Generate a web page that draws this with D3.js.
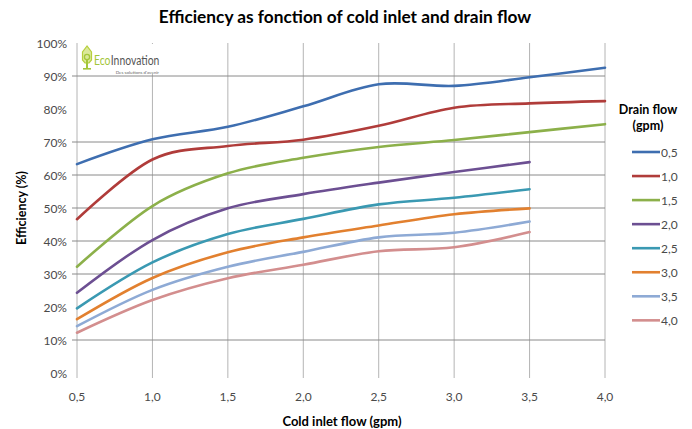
<!DOCTYPE html>
<html>
<head>
<meta charset="utf-8">
<script src="https://cdn.jsdelivr.net/npm/d3@7"></script>
<style>
  html, body { margin: 0; padding: 0; background: #fff; }
  svg text { font-family: Lato, "Open Sans", sans-serif; }
</style>
</head>
<body>
<svg id="chart" width="692" height="429"></svg>
<script>
// ---- data ----
const coldInletFlow = [0.5, 1.0, 1.5, 2.0, 2.5, 3.0, 3.5, 4.0];
const drainFlows = ["0,5", "1,0", "1,5", "2,0", "2,5", "3,0", "3,5", "4,0"];
const eff05 = [63.3, 70.8, 74.6, 80.8, 87.5, 87.0, 89.6, 92.5];
const eff10 = [46.6, 64.7, 68.8, 70.7, 74.9, 80.4, 81.7, 82.4];
const eff15 = [32.2, 50.6, 60.5, 65.2, 68.5, 70.6, 73.0, 75.4];
const eff20 = [24.3, 40.3, 49.9, 54.2, 57.7, 60.9, 63.9];
const eff25 = [19.6, 33.5, 42.1, 46.7, 51.1, 53.1, 55.7];
const eff30 = [16.3, 28.8, 36.6, 41.1, 44.7, 48.1, 49.9];
const eff35 = [14.2, 25.2, 32.2, 36.7, 41.1, 42.5, 45.9];
const eff40 = [12.2, 22.1, 28.7, 32.8, 36.9, 38.1, 42.7];
const seriesValues = [eff05, eff10, eff15, eff20, eff25, eff30, eff35, eff40];
const colors = ["#3e6eb0", "#b03c3a", "#8cb04a", "#6c4f92", "#3a99b2", "#e2802f", "#8eaad5", "#d38e8e"];
const xTicks = [0.5, 1.0, 1.5, 2.0, 2.5, 3.0, 3.5, 4.0];
const yTicks = [0, 10, 20, 30, 40, 50, 60, 70, 80, 90, 100];
const yGridShown = [10, 30, 40, 50, 60, 70, 90];

// ---- drawing ----
const svg = d3.select("#chart");
const x = d3.scaleLinear().domain([0.5, 4.0]).range([77, 605]);
const y = d3.scaleLinear().domain([0, 100]).range([373, 43]);
const fmtX = v => d3.format(".1f")(v).replace(".", ",");

// vertical gridlines
svg.append("g").selectAll("line").data(xTicks).join("line")
  .attr("x1", d => x(d)).attr("x2", d => x(d))
  .attr("y1", y(100)).attr("y2", y(0) + 5)
  .attr("stroke", "#b4b4b4").attr("stroke-width", 1);

// horizontal gridlines
svg.append("g").selectAll("line").data(yGridShown).join("line")
  .attr("x1", x(0.5) - 5).attr("x2", x(4.0))
  .attr("y1", d => y(d)).attr("y2", d => y(d))
  .attr("stroke", "#8a8a8a").attr("stroke-width", 1);

// y tick labels
svg.append("g").selectAll("text").data(yTicks).join("text")
  .attr("x", 67).attr("y", d => y(d) + 4.5)
  .attr("text-anchor", "end").attr("font-size", 12).attr("fill", "#4a4a4a")
  .text(d => d + "%");

// x tick labels
svg.append("g").selectAll("text").data(xTicks).join("text")
  .attr("x", d => x(d)).attr("y", 401)
  .attr("text-anchor", "middle").attr("font-size", 12).attr("fill", "#4a4a4a")
  .text(d => fmtX(d));

// logo
const logo = svg.append("g");
logo.append("rect").attr("x", 78).attr("y", 44).attr("width", 83).attr("height", 30).attr("fill", "#fff");
logo.append("path").attr("d", "M87,46 L82.5,52 L82.5,60 L85,63 L89,63 L91.5,60 L91.5,52 Z")
  .attr("fill", "#dbe89a").attr("stroke", "#b6cf3c").attr("stroke-width", 1.2);
logo.append("circle").attr("cx", 87).attr("cy", 57).attr("r", 2.6).attr("fill", "none").attr("stroke", "#a3c63a").attr("stroke-width", 1.3);
logo.append("rect").attr("x", 86).attr("y", 59).attr("width", 2).attr("height", 10).attr("fill", "#a3c63a");
logo.append("rect").attr("x", 83).attr("y", 68).attr("width", 8).attr("height", 1.6).attr("fill", "#a3c63a");
const brand = logo.append("g").attr("transform", "translate(94,64.5) scale(0.8,1)");
const t1 = brand.append("text").attr("x", 0).attr("y", 0).attr("font-size", 13).attr("fill", "#a3c63a").text("Eco");
const w1 = t1.node().getComputedTextLength();
brand.append("text").attr("x", w1 + 0.3).attr("y", 0).attr("font-size", 13).attr("fill", "#555").text("Innovation");
logo.append("text").attr("x", 159).attr("y", 74).attr("font-size", 4.5)
  .attr("text-anchor", "end").attr("fill", "#666").text("Des solutions d'avenir");

// lines
const line = d3.line()
  .x((d, i) => x(coldInletFlow[i]))
  .y(d => y(d))
  .curve(d3.curveCardinal.tension(0));
svg.append("g").selectAll("path").data(seriesValues).join("path")
  .attr("d", d => line(d))
  .attr("fill", "none")
  .attr("stroke", (d, i) => colors[i])
  .attr("stroke-width", 2.6)
  .attr("stroke-linejoin", "round").attr("stroke-linecap", "round");

// title
svg.append("text").attr("x", 345).attr("y", 23).attr("text-anchor", "middle")
  .attr("font-size", 17.3).attr("font-weight", "bold").attr("fill", "#000")
  .text("Efficiency as fonction of cold inlet and drain flow");

// axis titles
svg.append("text").attr("x", 342).attr("y", 426).attr("text-anchor", "middle")
  .attr("font-size", 13).attr("font-weight", "bold").attr("fill", "#000")
  .text("Cold inlet flow (gpm)");
svg.append("text").attr("transform", "translate(26,208) rotate(-90)").attr("text-anchor", "middle")
  .attr("font-size", 12.5).attr("font-weight", "bold").attr("fill", "#000")
  .text("Efficiency (%)");

// legend
const lg = svg.append("g");
lg.append("text").attr("x", 648).attr("y", 114).attr("text-anchor", "middle")
  .attr("font-size", 12.5).attr("font-weight", "bold").attr("fill", "#000").text("Drain flow");
lg.append("text").attr("x", 648).attr("y", 130).attr("text-anchor", "middle")
  .attr("font-size", 12.5).attr("font-weight", "bold").attr("fill", "#000").text("(gpm)");
const items = lg.selectAll("g.item").data(drainFlows).join("g").attr("class", "item")
  .attr("transform", (d, i) => `translate(0,${152 + i * 24.05})`);
items.append("line").attr("x1", 632).attr("x2", 660).attr("y1", 0).attr("y2", 0)
  .attr("stroke", (d, i) => colors[i]).attr("stroke-width", 2.6);
items.append("text").attr("x", 661).attr("y", 4.5).attr("font-size", 12).attr("fill", "#4a4a4a").text(d => d);
</script>
</body>
</html>
